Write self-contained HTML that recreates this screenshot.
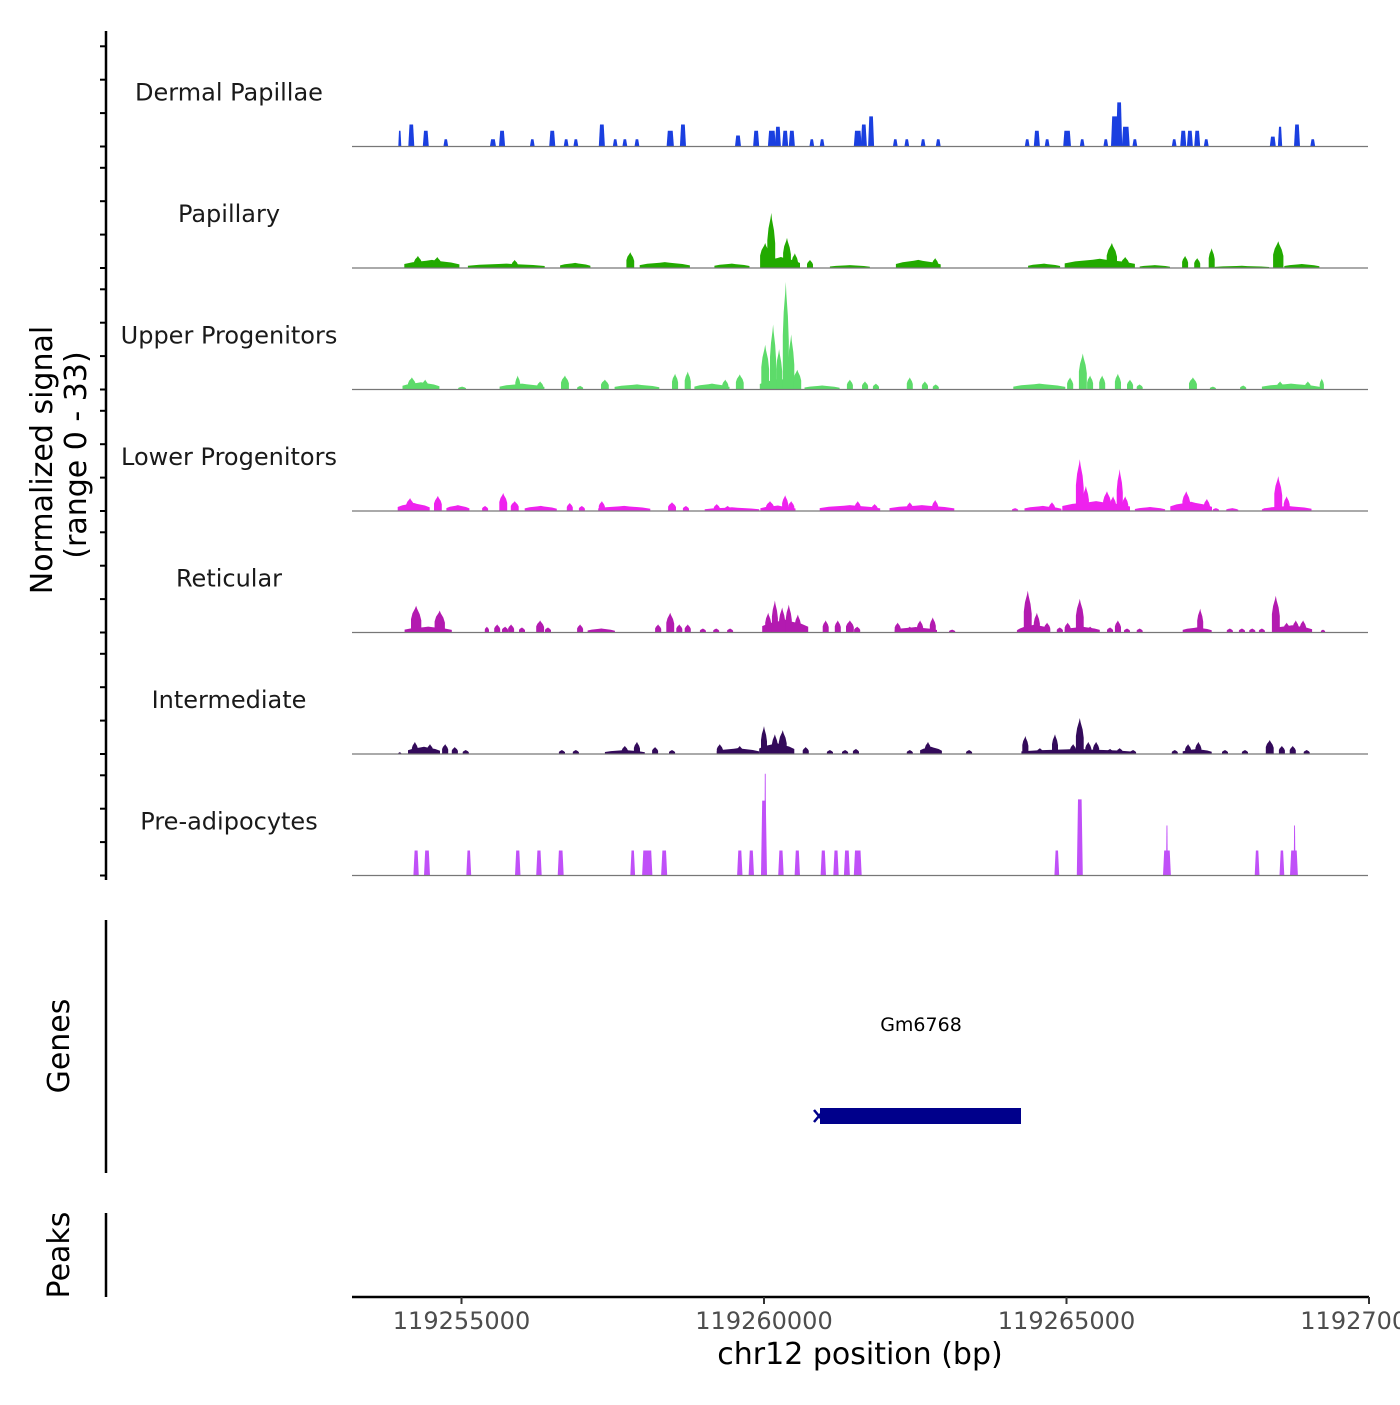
<!DOCTYPE html>
<html><head><meta charset="utf-8">
<style>
html,body{margin:0;padding:0;background:#fff;}
body{width:1400px;height:1400px;overflow:hidden;font-family:"Liberation Sans","DejaVu Sans",sans-serif;}
</style></head>
<body>
<svg id="chart" width="1400" height="1400" xmlns="http://www.w3.org/2000/svg" font-family="DejaVu Sans, Liberation Sans, sans-serif">
  <g id="yaxis">
    <line x1="106" y1="31" x2="106" y2="880" stroke="#000" stroke-width="2.5"/>
  </g>
  <text transform="translate(52,460) rotate(-90)" text-anchor="middle" font-size="30" fill="#000">Normalized signal</text>
  <text transform="translate(86,455) rotate(-90)" text-anchor="middle" font-size="30" fill="#000">(range 0 - 33)</text>
  <g id="tracks"></g>

  <g>
    <line x1="106" y1="920" x2="106" y2="1173" stroke="#000" stroke-width="2.5"/>
    <text transform="translate(69,1046) rotate(-90)" text-anchor="middle" font-size="30">Genes</text>
    <text x="921" y="1031" text-anchor="middle" font-size="19">Gm6768</text>
    <rect x="820" y="1108" width="201" height="16" fill="#00008b"/>
    <path d="M814 1110 L824 1122 M814 1122 L824 1110" stroke="#00008b" stroke-width="2.5"/>
  </g>
  <g>
    <line x1="106" y1="1213" x2="106" y2="1297" stroke="#000" stroke-width="2.5"/>
    <text transform="translate(69,1255) rotate(-90)" text-anchor="middle" font-size="30">Peaks</text>
  </g>
  <g id="xaxis">
    <line x1="352" y1="1297" x2="1369" y2="1297" stroke="#000" stroke-width="2.5"/>
  </g>
  <text x="860" y="1364" text-anchor="middle" font-size="30">chr12 position (bp)</text>
</svg>
<script>
// genomic axis (kb offset from 119,250,000)
const xTickValues = [5, 10, 15, 20];
const xTickLabels = ["119255000", "119260000", "119265000", "119270000"];
const yTickValues = [0, 10, 20, 30];
const trackNames = ["Dermal Papillae","Papillary","Upper Progenitors","Lower Progenitors","Reticular","Intermediate","Pre-adipocytes"];
const trackColors = ["#1a3fe0","#22aa00","#5ddb6a","#ee22ee","#b31ab0","#330a5a","#c050f8"];
const trackBlocky = [true,false,false,false,false,false,true];

// Dermal Papillae
const dpCenters = [3.98,4.17,4.41,4.74,5.52,5.67,6.17,6.50,6.73,6.89,7.32,7.54,7.70,7.90,8.45,8.66,9.57,9.87,10.13,10.23,10.35,10.46,10.79,10.96,11.55,11.65,11.77,12.17,12.36,12.63,12.88,14.35,14.51,14.68,15.01,15.26,15.65,15.80,15.87,15.98,16.13,16.78,16.93,17.04,17.16,17.31,18.41,18.53,18.81,19.07];
const dpHeights = [4.3,6,4.3,2,2,4.3,2,4.3,2,2,6,2,2,2,4.3,6,3,4.3,4.3,5.4,4.3,4.3,2,2,4.3,6,8.2,2,2,2,2,2,4.3,2,4.3,2,2,8.2,12,5.4,2,2,4.3,4.3,4.3,2,2.7,5.4,6,2];
const dpWidths = [0.05,0.1,0.1,0.08,0.1,0.1,0.08,0.1,0.08,0.08,0.1,0.08,0.08,0.08,0.12,0.1,0.1,0.1,0.13,0.1,0.1,0.1,0.08,0.08,0.13,0.1,0.1,0.08,0.08,0.08,0.08,0.08,0.1,0.08,0.13,0.08,0.08,0.13,0.1,0.13,0.08,0.08,0.1,0.1,0.1,0.08,0.1,0.07,0.1,0.08];

// Papillary
const paCenters = [4.51,4.28,4.60,5.74,5.88,6.88,7.79,8.36,9.47,10.28,10.02,10.12,10.38,10.51,10.76,11.42,12.55,12.83,14.63,15.55,15.75,15.97,16.46,16.96,17.16,17.40,17.90,18.50,18.89];
const paHeights = [2.2,3.3,3,1.2,2.2,1.4,4.3,1.6,1.2,3,6.8,15,8.2,4,2.2,0.8,2.2,2.7,1.2,2.5,6.8,3,0.8,3.3,2.7,5.4,0.6,7.3,1.1];
const paWidths = [0.91,0.13,0.13,1.27,0.1,0.5,0.13,0.83,0.58,0.63,0.17,0.13,0.13,0.1,0.1,0.66,0.74,0.1,0.53,1.16,0.17,0.13,0.5,0.1,0.1,0.1,0.9,0.17,0.58];

// Upper Progenitors
const upCenters = [4.33,4.18,4.40,5.01,6.0,5.93,6.30,6.71,6.96,7.37,7.90,8.53,8.74,9.14,9.36,9.60,10.26,10.02,10.15,10.25,10.36,10.45,10.55,10.96,11.42,11.67,11.85,12.41,12.66,12.84,14.55,15.06,15.27,15.39,15.59,15.85,16.05,16.21,17.09,17.42,17.92,18.71,18.53,18.99,19.22];
const upHeights = [2,3.3,2.7,0.8,1.6,3.8,2.2,3.8,1,2.7,1.4,4.3,4.9,1.6,2.7,4.1,3,12.2,17.7,11,29.3,15,5.4,1.1,2.7,2.2,1.6,3.3,2.2,1.4,1.6,3.3,9.8,3.8,3.8,4.3,2.7,1.4,3.3,0.8,1.1,1.6,2.2,2.2,3];
const upWidths = [0.61,0.13,0.1,0.13,0.74,0.08,0.1,0.13,0.1,0.13,0.74,0.1,0.1,0.58,0.1,0.13,0.66,0.13,0.1,0.1,0.1,0.1,0.13,0.58,0.1,0.1,0.1,0.1,0.1,0.1,0.86,0.1,0.13,0.1,0.1,0.1,0.1,0.1,0.13,0.1,0.1,0.96,0.1,0.1,0.07];

// Lower Progenitors
const lpCenters = [4.21,4.15,4.61,4.94,5.39,5.69,5.88,6.31,6.79,6.99,7.69,7.32,8.48,8.71,9.22,9.40,9.47,10.10,10.35,10.45,10.23,11.42,11.55,11.83,12.61,12.41,12.83,14.15,14.61,14.76,15.49,15.22,15.32,15.67,15.77,15.88,15.97,16.38,17.06,16.98,17.32,17.47,17.74,18.28,18.66,18.50,18.64];
const lpHeights = [2.2,3.5,4.1,1.6,1.4,4.9,2.7,1.4,2.2,1.4,1.4,2.7,2.4,1.4,1.9,1.4,1,2.7,4.3,2.7,1.5,1.6,2.7,1.9,1.6,2.4,3,0.8,1.4,2.4,2.7,14.1,6.8,5.4,4,11.4,4,1.1,2.5,5.4,3.3,0.8,0.8,0.8,1.4,9.5,4];
const lpWidths = [0.53,0.13,0.13,0.38,0.1,0.13,0.13,0.53,0.1,0.1,0.86,0.1,0.13,0.1,0.1,0.1,0.9,0.13,0.1,0.1,0.58,1.0,0.1,0.1,1.07,0.1,0.1,0.1,0.61,0.1,1.12,0.13,0.1,0.13,0.1,0.1,0.1,0.5,0.69,0.13,0.1,0.1,0.2,0.1,0.78,0.13,0.1];

// Reticular
const reCenters = [4.45,4.25,4.64,5.42,5.59,5.72,5.82,6.0,6.30,6.43,6.96,7.31,8.25,8.45,8.60,8.74,8.99,9.21,9.44,10.35,10.07,10.18,10.30,10.41,10.56,11.02,11.22,11.42,11.54,12.21,12.41,12.51,12.58,12.79,13.11,14.23,14.36,14.48,14.51,14.68,14.89,15.02,15.22,15.26,15.39,15.72,15.85,16.0,16.21,17.16,17.21,17.70,17.90,18.07,18.23,18.73,18.46,18.64,18.79,18.91,19.24];
const reHeights = [1.6,7.3,6,1.6,2.2,1.6,2.2,1.4,3.3,1.4,2.2,1.1,2.2,5.4,2.2,2.2,1.1,1.1,1.1,3.5,5.4,8.7,6.8,7.6,4.9,3.3,3.3,3.3,1.6,2.7,1.6,1.5,3.3,4.1,0.8,1.1,11.4,2.2,5.4,2.7,1.4,2.7,9.2,1.6,1.6,1.4,3.3,1.1,1.1,1.4,6.5,1.1,1.1,1.1,1.1,2,10,2.7,3.3,3.3,0.8];
const reWidths = [0.78,0.17,0.17,0.07,0.1,0.1,0.1,0.1,0.13,0.1,0.1,0.45,0.1,0.13,0.1,0.1,0.1,0.1,0.1,0.76,0.1,0.1,0.1,0.1,0.1,0.1,0.1,0.13,0.1,0.1,0.1,0.7,0.1,0.1,0.1,0.1,0.13,0.5,0.1,0.1,0.1,0.1,0.13,0.58,0.1,0.1,0.1,0.1,0.1,0.48,0.1,0.1,0.1,0.1,0.1,0.66,0.13,0.1,0.1,0.1,0.07];

// Intermediate
const inCenters = [3.98,4.38,4.23,4.48,4.73,4.89,5.07,6.66,6.89,7.70,7.70,7.90,8.20,8.48,9.57,9.27,9.60,10.21,10.0,10.18,10.31,10.69,11.09,11.34,11.52,12.41,12.76,12.71,13.39,15.19,14.32,14.56,14.81,15.11,15.22,15.36,15.49,15.72,15.88,16.10,16.79,17.16,17.01,17.18,17.62,17.95,18.36,18.56,18.74,18.97];
const inHeights = [0.5,2,3.3,2.7,2.7,1.9,1.1,1.1,1.1,1.1,2.2,3.3,1.9,1.1,1.6,2.7,2.2,3,7.6,5.4,6.5,1.9,1.1,1.1,1.4,1.1,2,3.3,1.1,1.4,4.9,1.6,5.4,2.7,9.8,3.3,3.3,1.4,1.6,1.1,1.1,1.4,2.7,3.3,1.1,1.1,3.8,2.2,2.2,1.1];
const inWidths = [0.05,0.53,0.1,0.1,0.1,0.1,0.1,0.1,0.1,0.66,0.1,0.1,0.1,0.1,0.7,0.1,0.1,0.58,0.1,0.1,0.13,0.1,0.1,0.1,0.1,0.1,0.36,0.1,0.1,1.87,0.1,0.1,0.1,0.1,0.13,0.1,0.1,0.1,0.1,0.1,0.1,0.48,0.1,0.1,0.1,0.1,0.13,0.1,0.1,0.1];

// Pre-adipocytes
const paCentersPre = [4.25,4.43,5.12,5.93,6.28,6.64,7.83,8.07,8.35,9.60,9.79,10.0,10.02,10.28,10.55,10.98,11.19,11.37,11.55,14.84,15.22,16.66,16.66,18.15,18.56,18.76,18.77];
const paHeightsPre = [6.8,6.8,6.8,6.8,6.8,6.8,6.8,6.8,6.8,6.8,6.8,20.4,27.7,6.8,6.8,6.8,6.8,6.8,6.8,6.8,20.7,6.8,13.6,6.8,6.8,6.8,13.6];
const paWidthsPre = [0.09,0.1,0.08,0.09,0.09,0.1,0.08,0.17,0.1,0.09,0.09,0.1,0.03,0.09,0.09,0.09,0.09,0.1,0.13,0.08,0.1,0.13,0.03,0.08,0.08,0.13,0.03];

const centersByTrack = [dpCenters,paCenters,upCenters,lpCenters,reCenters,inCenters,paCentersPre];
const heightsByTrack = [dpHeights,paHeights,upHeights,lpHeights,reHeights,inHeights,paHeightsPre];
const widthsByTrack = [dpWidths,paWidths,upWidths,lpWidths,reWidths,inWidths,paWidthsPre];

const NS = "http://www.w3.org/2000/svg";
const X0 = 352, X1 = 1368, TOP = 25, TH = 121.5, PX_PER_UNIT = 3.34, SIGNAL_CAL = 1.1;
function xScale(kb){ return 764 + (kb - 10) * 60.5; }
function yScale(v, base){ return base - v * PX_PER_UNIT; }

const tracksG = document.getElementById("tracks");
const yaxisG = document.getElementById("yaxis");

trackNames.forEach((name, i) => {
  const base = TOP + TH * (i + 1);
  yTickValues.forEach(v => {
    const y = yScale(v, base);
    const t = document.createElementNS(NS, "line");
    
    
    t.setAttribute("x1", 100); t.setAttribute("x2", 106);
    t.setAttribute("y1", y); t.setAttribute("y2", y);
    t.setAttribute("stroke", "#000"); t.setAttribute("stroke-width", "2");
    yaxisG.appendChild(t);
  });

  const g = document.createElementNS(NS, "g");
  
  
  tracksG.appendChild(g);

  const lbl = document.createElementNS(NS, "text");
  
  
  lbl.setAttribute("x", 229); lbl.setAttribute("y", base - 46);
  lbl.setAttribute("text-anchor", "middle"); lbl.setAttribute("font-size", "24");
  lbl.setAttribute("fill", "#1a1a1a");
  lbl.textContent = name;
  g.appendChild(lbl);

  const cs = centersByTrack[i], hs = heightsByTrack[i], ws = widthsByTrack[i];
  for (let k = 0; k < cs.length; k++) {
    const xl = xScale(cs[k] - ws[k] / 2), xr = xScale(cs[k] + ws[k] / 2), xc = xScale(cs[k]);
    const yt = yScale(hs[k] * SIGNAL_CAL, base);
    const h = base - yt;
    let pts;
    if (trackBlocky[i]) {
      const s = Math.min(1.2, (xr - xl) / 4);
      pts = [[xl, base], [xl + s, yt], [xr - s, yt], [xr, base]];
    } else {
      const w = xr - xl;
      pts = [[xl, base], [xl, base - h * 0.5], [xl + w * 0.15, base - h * 0.72], [xc - w * 0.1, base - h * 0.9], [xc, yt], [xc + w * 0.1, base - h * 0.88], [xr - w * 0.15, base - h * 0.68], [xr, base - h * 0.45], [xr, base]];
    }
    const p = document.createElementNS(NS, "polygon");
    
    
    p.setAttribute("points", pts.map(q => q[0].toFixed(1) + "," + q[1].toFixed(1)).join(" "));
    p.setAttribute("fill", trackColors[i]);
    g.appendChild(p);
  }

  const bl = document.createElementNS(NS, "line");
  
  
  bl.setAttribute("x1", X0); bl.setAttribute("x2", X1);
  bl.setAttribute("y1", base); bl.setAttribute("y2", base);
  bl.setAttribute("stroke", "#777"); bl.setAttribute("stroke-width", "1.2");
  g.appendChild(bl);
});

// x-axis ticks
const xaxisG = document.getElementById("xaxis");
xTickValues.forEach((v, i) => {
  const x = xScale(v);
  const t = document.createElementNS(NS, "line");
  
  
  t.setAttribute("x1", x); t.setAttribute("x2", x);
  t.setAttribute("y1", 1297); t.setAttribute("y2", 1304);
  t.setAttribute("stroke", "#333"); t.setAttribute("stroke-width", "2");
  xaxisG.appendChild(t);
  const lab = document.createElementNS(NS, "text");
  
  
  lab.setAttribute("x", x); lab.setAttribute("y", 1329);
  lab.setAttribute("text-anchor", "middle"); lab.setAttribute("font-size", "24");
  lab.setAttribute("fill", "#4d4d4d");
  lab.textContent = xTickLabels[i];
  xaxisG.appendChild(lab);
});
</script>
</body></html>
